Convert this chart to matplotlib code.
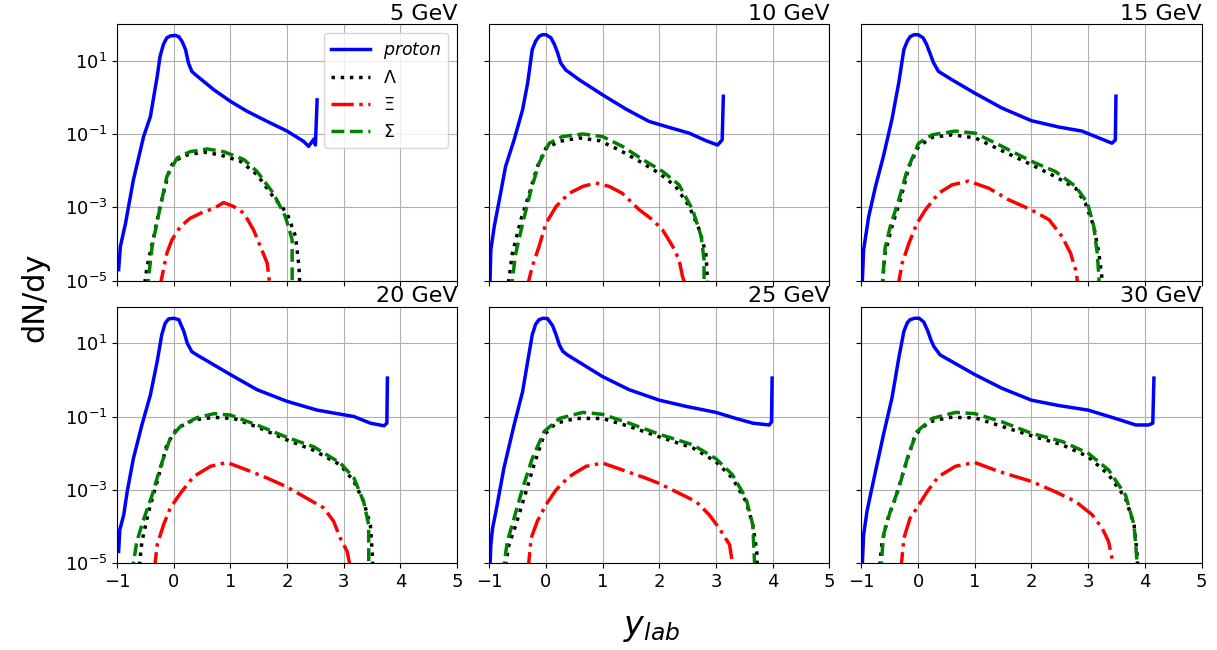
import matplotlib
matplotlib.use("Agg")
import matplotlib.pyplot as plt

# rapidity (y_lab) and dN/dy, one set per beam energy
energies = ["5 GeV", "10 GeV", "15 GeV", "20 GeV", "25 GeV", "30 GeV"]

# ---- 5 GeV
p05_y = [-0.97, -0.94, -0.85, -0.71, -0.53, -0.41, -0.29, -0.24, -0.18, -0.12, -0.06, 0.03, 0.09, 0.15, 0.21, 0.26, 0.32, 0.38, 0.71, 1.0, 1.29, 1.65, 2.0, 2.29, 2.38, 2.47, 2.50, 2.53]
p05_n = [2.0e-5, 8.5e-5, 3.6e-4, 5.6e-3, 8.5e-2, 0.30, 3.7, 13, 28, 42, 47, 49, 45, 33, 20, 8.7, 5.1, 4.2, 1.6, 0.78, 0.42, 0.22, 0.12, 0.063, 0.046, 0.072, 0.05, 0.85]
lam05_y = [-0.53, -0.47, -0.35, -0.24, -0.09, 0.0, 0.24, 0.53, 0.82, 1.18, 1.47, 1.76, 2.0, 2.15, 2.21, 2.23]
lam05_n = [5e-6, 2.4e-5, 1.6e-4, 1.05e-3, 8.5e-3, 1.8e-2, 2.7e-2, 3.2e-2, 2.7e-2, 1.8e-2, 7.8e-3, 1.9e-3, 6.9e-4, 1.6e-4, 2.4e-5, 5e-6]
xi05_y = [-0.26, -0.12, -0.03, 0.12, 0.29, 0.53, 0.71, 0.88, 1.06, 1.24, 1.41, 1.53, 1.65, 1.71]
xi05_n = [5e-6, 5.6e-5, 1.3e-4, 3.0e-4, 5.0e-4, 7.6e-4, 9.3e-4, 1.35e-3, 1.05e-3, 6.9e-4, 2.4e-4, 8.5e-5, 3.0e-5, 5e-6]
sig05_y = [-0.47, -0.38, -0.26, -0.12, 0.06, 0.29, 0.59, 0.88, 1.24, 1.47, 1.76, 1.97, 2.09, 2.09]
sig05_n = [5e-6, 8.5e-5, 6.9e-4, 6.9e-3, 2.2e-2, 3.3e-2, 3.9e-2, 3.3e-2, 2.0e-2, 9.5e-3, 2.4e-3, 5.6e-4, 1.3e-4, 5e-6]

# ---- 10 GeV
p10_y = [-0.99, -0.97, -0.91, -0.82, -0.71, -0.56, -0.41, -0.32, -0.24, -0.18, -0.12, -0.06, 0.0, 0.09, 0.15, 0.21, 0.26, 0.35, 0.59, 1.0, 1.41, 1.82, 2.12, 2.53, 2.82, 3.03, 3.11, 3.13]
p10_n = [5e-6, 6.9e-5, 3.0e-4, 1.6e-3, 1.3e-2, 6.9e-2, 0.46, 2.5, 20, 34, 46, 51, 51, 42, 28, 16, 8.7, 5.6, 3.0, 1.17, 0.48, 0.22, 0.16, 0.105, 0.066, 0.05, 0.069, 1.07]
lam10_y = [-0.68, -0.59, -0.44, -0.29, -0.15, 0.0, 0.24, 0.59, 0.94, 1.29, 1.65, 2.0, 2.29, 2.53, 2.71, 2.82, 2.84, 2.85]
lam10_n = [5e-6, 5.6e-5, 4.6e-4, 2.4e-3, 1.3e-2, 4.1e-2, 6.3e-2, 7.8e-2, 6.6e-2, 3.7e-2, 1.8e-2, 8.5e-3, 3.7e-3, 1.05e-3, 2.4e-4, 5.6e-5, 2.2e-5, 5e-6]
xi10_y = [-0.35, -0.24, -0.12, 0.0, 0.18, 0.41, 0.65, 0.88, 1.12, 1.35, 1.65, 1.88, 2.06, 2.24, 2.35, 2.41, 2.5]
xi10_n = [5e-6, 2.4e-5, 8.5e-5, 3.6e-4, 1.05e-3, 2.4e-3, 3.7e-3, 4.6e-3, 3.7e-3, 2.4e-3, 8.5e-4, 4.6e-4, 2.4e-4, 8.5e-5, 3.7e-5, 1.3e-5, 5e-6]
sig10_y = [-0.62, -0.53, -0.41, -0.26, -0.12, 0.06, 0.29, 0.65, 1.0, 1.35, 1.71, 2.06, 2.35, 2.59, 2.74, 2.79, 2.79]
sig10_n = [5e-6, 5.6e-5, 3.6e-4, 3.0e-3, 1.6e-2, 5.6e-2, 8.5e-2, 0.10, 8.5e-2, 4.6e-2, 2.0e-2, 9.5e-3, 4.1e-3, 8.5e-4, 1.6e-4, 3.7e-5, 5e-6]

# ---- 15 GeV
p15_y = [-0.99, -0.96, -0.87, -0.75, -0.61, -0.46, -0.34, -0.25, -0.19, -0.14, -0.07, 0.0, 0.09, 0.15, 0.21, 0.27, 0.36, 0.6, 1.0, 1.48, 2.0, 2.48, 2.89, 3.13, 3.42, 3.48, 3.49]
p15_n = [5e-6, 6.9e-5, 5.6e-4, 3.7e-3, 2.5e-2, 0.25, 2.5, 20, 34, 45, 51, 51, 42, 28, 16, 9.0, 5.1, 3.0, 1.3, 0.51, 0.23, 0.155, 0.12, 0.085, 0.056, 0.069, 1.07]
lam15_y = [-0.64, -0.58, -0.46, -0.31, -0.16, 0.01, 0.25, 0.6, 1.01, 1.48, 2.0, 2.42, 2.78, 2.95, 3.1, 3.19, 3.24, 3.25]
lam15_n = [5e-6, 5.6e-5, 3.0e-4, 1.6e-3, 1.3e-2, 4.6e-2, 8.1e-2, 9.5e-2, 7.8e-2, 3.5e-2, 1.45e-2, 6.9e-3, 3.3e-3, 1.3e-3, 3.0e-4, 5.6e-5, 1.3e-5, 5e-6]
xi15_y = [-0.37, -0.28, -0.16, -0.02, 0.13, 0.36, 0.6, 0.89, 1.25, 1.6, 2.0, 2.31, 2.54, 2.69, 2.78, 2.84]
xi15_n = [5e-6, 3.0e-5, 1.05e-4, 3.6e-4, 8.5e-4, 2.4e-3, 4.1e-3, 5.2e-3, 3.3e-3, 1.6e-3, 8.5e-4, 4.6e-4, 1.6e-4, 5.6e-5, 1.95e-5, 5e-6]
sig15_y = [-0.64, -0.58, -0.49, -0.34, -0.19, 0.01, 0.25, 0.66, 1.01, 1.48, 2.0, 2.42, 2.78, 2.99, 3.1, 3.16, 3.19, 3.19]
sig15_n = [5e-6, 7.9e-5, 3.0e-4, 1.6e-3, 1.05e-2, 5.6e-2, 9.5e-2, 0.12, 0.105, 4.6e-2, 1.8e-2, 9.5e-3, 3.7e-3, 1.3e-3, 3.0e-4, 5.6e-5, 1.3e-5, 5e-6]

# ---- 20 GeV
p20_y = [-0.97, -0.95, -0.88, -0.82, -0.71, -0.56, -0.41, -0.29, -0.21, -0.15, -0.09, 0.0, 0.09, 0.18, 0.24, 0.32, 0.41, 1.0, 1.47, 2.0, 2.53, 3.18, 3.47, 3.71, 3.76, 3.77]
p20_n = [2.1e-5, 8.1e-5, 2.1e-4, 8.9e-4, 7.2e-3, 5.9e-2, 0.39, 3.2, 17, 35, 46, 48, 44, 21, 10, 5.9, 4.8, 1.4, 0.54, 0.26, 0.15, 0.10, 0.066, 0.056, 0.066, 1.12]
lam20_y = [-0.62, -0.56, -0.44, -0.29, -0.12, 0.06, 0.35, 0.71, 1.06, 1.53, 2.0, 2.47, 2.94, 3.18, 3.35, 3.47, 3.5, 3.52]
lam20_n = [5e-6, 3.9e-5, 2.6e-4, 1.7e-3, 1.7e-2, 4.8e-2, 8.1e-2, 9.5e-2, 8.9e-2, 4.8e-2, 2.3e-2, 1.2e-2, 4.8e-3, 1.7e-3, 4.8e-4, 1.1e-4, 2.1e-5, 5e-6]
xi20_y = [-0.35, -0.29, -0.18, -0.06, 0.12, 0.35, 0.65, 0.94, 1.29, 1.65, 2.0, 2.35, 2.65, 2.82, 2.94, 3.06, 3.14]
xi20_n = [5e-6, 3.2e-5, 1.1e-4, 3.2e-4, 8.1e-4, 2.3e-3, 4.4e-3, 5.6e-3, 3.5e-3, 2.1e-3, 1.2e-3, 5.9e-4, 3.2e-4, 1.4e-4, 4.8e-5, 2.1e-5, 5e-6]
sig20_y = [-0.74, -0.65, -0.54, -0.38, -0.24, -0.06, 0.12, 0.41, 0.71, 1.0, 1.53, 2.0, 2.47, 2.94, 3.18, 3.35, 3.44, 3.44]
sig20_n = [5e-6, 3.9e-5, 1.4e-4, 7.2e-4, 3.9e-3, 2.6e-2, 5.4e-2, 9.3e-2, 0.12, 0.11, 5.4e-2, 2.7e-2, 1.5e-2, 5.4e-3, 2.1e-3, 4.8e-4, 1.1e-4, 5e-6]

# ---- 25 GeV
p25_y = [-0.99, -0.97, -0.94, -0.88, -0.74, -0.56, -0.41, -0.32, -0.24, -0.18, -0.12, -0.05, 0.03, 0.12, 0.18, 0.24, 0.30, 0.38, 1.0, 1.47, 2.0, 2.47, 3.0, 3.35, 3.65, 3.94, 3.98, 3.99]
p25_n = [5e-6, 3.2e-5, 8.9e-5, 2.6e-4, 3.9e-3, 5.9e-2, 0.48, 3.2, 17, 33, 44, 48, 47, 30, 17, 8.9, 6.0, 4.8, 1.23, 0.54, 0.28, 0.19, 0.13, 0.089, 0.066, 0.059, 0.072, 1.12]
lam25_y = [-0.74, -0.65, -0.53, -0.35, -0.21, -0.03, 0.18, 0.53, 1.0, 1.47, 2.0, 2.59, 3.0, 3.29, 3.53, 3.65, 3.72, 3.73]
lam25_n = [5e-6, 3.2e-5, 1.1e-4, 8.9e-4, 4.8e-3, 3.2e-2, 6.6e-2, 8.9e-2, 8.9e-2, 5.4e-2, 2.8e-2, 1.4e-2, 5.9e-3, 2.1e-3, 4.8e-4, 1.1e-4, 2.1e-5, 5e-6]
xi25_y = [-0.32, -0.26, -0.15, 0.0, 0.18, 0.41, 0.71, 1.0, 1.35, 1.76, 2.0, 2.35, 2.65, 2.88, 3.06, 3.24, 3.32]
xi25_n = [5e-6, 4.8e-5, 1.4e-4, 3.9e-4, 1.0e-3, 2.3e-3, 4.4e-3, 5.4e-3, 3.5e-3, 2.1e-3, 1.5e-3, 8.1e-4, 4.8e-4, 2.1e-4, 8.9e-5, 3.2e-5, 5e-6]
sig25_y = [-0.76, -0.68, -0.56, -0.41, -0.24, -0.03, 0.24, 0.65, 1.0, 1.47, 2.0, 2.59, 3.0, 3.29, 3.53, 3.65, 3.69]
sig25_n = [5e-6, 3.9e-5, 1.7e-4, 1.1e-3, 7.2e-3, 3.9e-2, 8.9e-2, 0.13, 0.115, 6.6e-2, 3.3e-2, 1.7e-2, 7.1e-3, 2.6e-3, 5.9e-4, 1.1e-4, 5e-6]

# ---- 30 GeV
p30_y = [-0.99, -0.96, -0.9, -0.84, -0.75, -0.61, -0.46, -0.34, -0.25, -0.19, -0.14, -0.06, 0.02, 0.1, 0.17, 0.23, 0.28, 0.39, 1.0, 1.48, 2.0, 2.48, 3.0, 3.48, 3.84, 4.07, 4.14, 4.16]
p30_n = [5e-6, 5.9e-5, 2.6e-4, 7.2e-4, 3.2e-3, 3.2e-2, 0.32, 3.9, 21, 36, 44, 48, 48, 38, 22, 12, 8.1, 4.8, 1.4, 0.59, 0.28, 0.2, 0.15, 0.089, 0.059, 0.059, 0.066, 1.12]
lam30_y = [-0.69, -0.64, -0.55, -0.4, -0.22, -0.05, 0.19, 0.54, 1.0, 1.48, 2.0, 2.54, 3.0, 3.36, 3.66, 3.81, 3.86, 3.88]
lam30_n = [5e-6, 3.2e-5, 1.4e-4, 5.9e-4, 4.8e-3, 3.2e-2, 7.1e-2, 9.5e-2, 9.3e-2, 5.4e-2, 3.0e-2, 1.7e-2, 8.1e-3, 2.6e-3, 5.9e-4, 1.1e-4, 2.1e-5, 5e-6]
xi30_y = [-0.31, -0.25, -0.14, -0.02, 0.16, 0.36, 0.66, 1.0, 1.42, 2.0, 2.42, 2.78, 3.07, 3.25, 3.36, 3.48]
xi30_n = [5e-6, 4.8e-5, 1.7e-4, 3.2e-4, 8.9e-4, 2.3e-3, 4.4e-3, 5.6e-3, 3.2e-3, 1.7e-3, 8.9e-4, 4.8e-4, 2.1e-4, 8.9e-5, 3.9e-5, 5e-6]
sig30_y = [-0.66, -0.61, -0.49, -0.34, -0.19, -0.02, 0.25, 0.66, 1.0, 1.48, 2.0, 2.54, 3.0, 3.36, 3.66, 3.81, 3.88]
sig30_n = [5e-6, 5.9e-5, 2.6e-4, 1.1e-3, 7.2e-3, 3.9e-2, 8.9e-2, 0.13, 0.12, 7.2e-2, 3.5e-2, 2.1e-2, 1.0e-2, 3.5e-3, 7.2e-4, 1.1e-4, 5e-6]

panels = [
    ((p05_y, p05_n), (lam05_y, lam05_n), (xi05_y, xi05_n), (sig05_y, sig05_n)),
    ((p10_y, p10_n), (lam10_y, lam10_n), (xi10_y, xi10_n), (sig10_y, sig10_n)),
    ((p15_y, p15_n), (lam15_y, lam15_n), (xi15_y, xi15_n), (sig15_y, sig15_n)),
    ((p20_y, p20_n), (lam20_y, lam20_n), (xi20_y, xi20_n), (sig20_y, sig20_n)),
    ((p25_y, p25_n), (lam25_y, lam25_n), (xi25_y, xi25_n), (sig25_y, sig25_n)),
    ((p30_y, p30_n), (lam30_y, lam30_n), (xi30_y, xi30_n), (sig30_y, sig30_n)),
]

labels = [r'$proton$', r'$\Lambda$', r'$\Xi$', r'$\Sigma$']
styles = [('blue', '-'), ('black', ':'), ('red', '-.'), ('green', '--')]

fig, axes = plt.subplots(2, 3, figsize=(12.17, 6.5), dpi=100, sharex=True, sharey=True)
plt.subplots_adjust(left=0.0961, right=0.9873, bottom=0.1335, top=0.9631,
                    wspace=0.094, hspace=0.101)

for ax, title, curves in zip(axes.flat, energies, panels):
    for (yy, nn), lab, (c, ls) in zip(curves, labels, styles):
        ax.plot(yy, nn, color=c, linestyle=ls, linewidth=2.5, label=lab)
    ax.set_yscale('log')
    ax.set_ylim(1e-5, 1e2)
    ax.set_xlim(-1, 5)
    ax.set_yticks([1e-5, 1e-3, 1e-1, 1e1])
    ax.minorticks_off()
    ax.set_xticks([-1, 0, 1, 2, 3, 4, 5])
    ax.tick_params(labelsize=13)
    ax.grid(True, color='#b0b0b0', linewidth=0.8)
    ax.set_title(title, loc='right', fontsize=16, pad=3)

axes[0, 0].legend(loc='upper right', fontsize=12.5, handlelength=2.2)

fig.text(0.029, 0.543, 'dN/dy', rotation=90, fontsize=22, va='center', ha='center')
fig.text(0.535, 0.035, r'$y_{lab}$', fontsize=24, ha='center', va='center')

plt.savefig('out.png')
